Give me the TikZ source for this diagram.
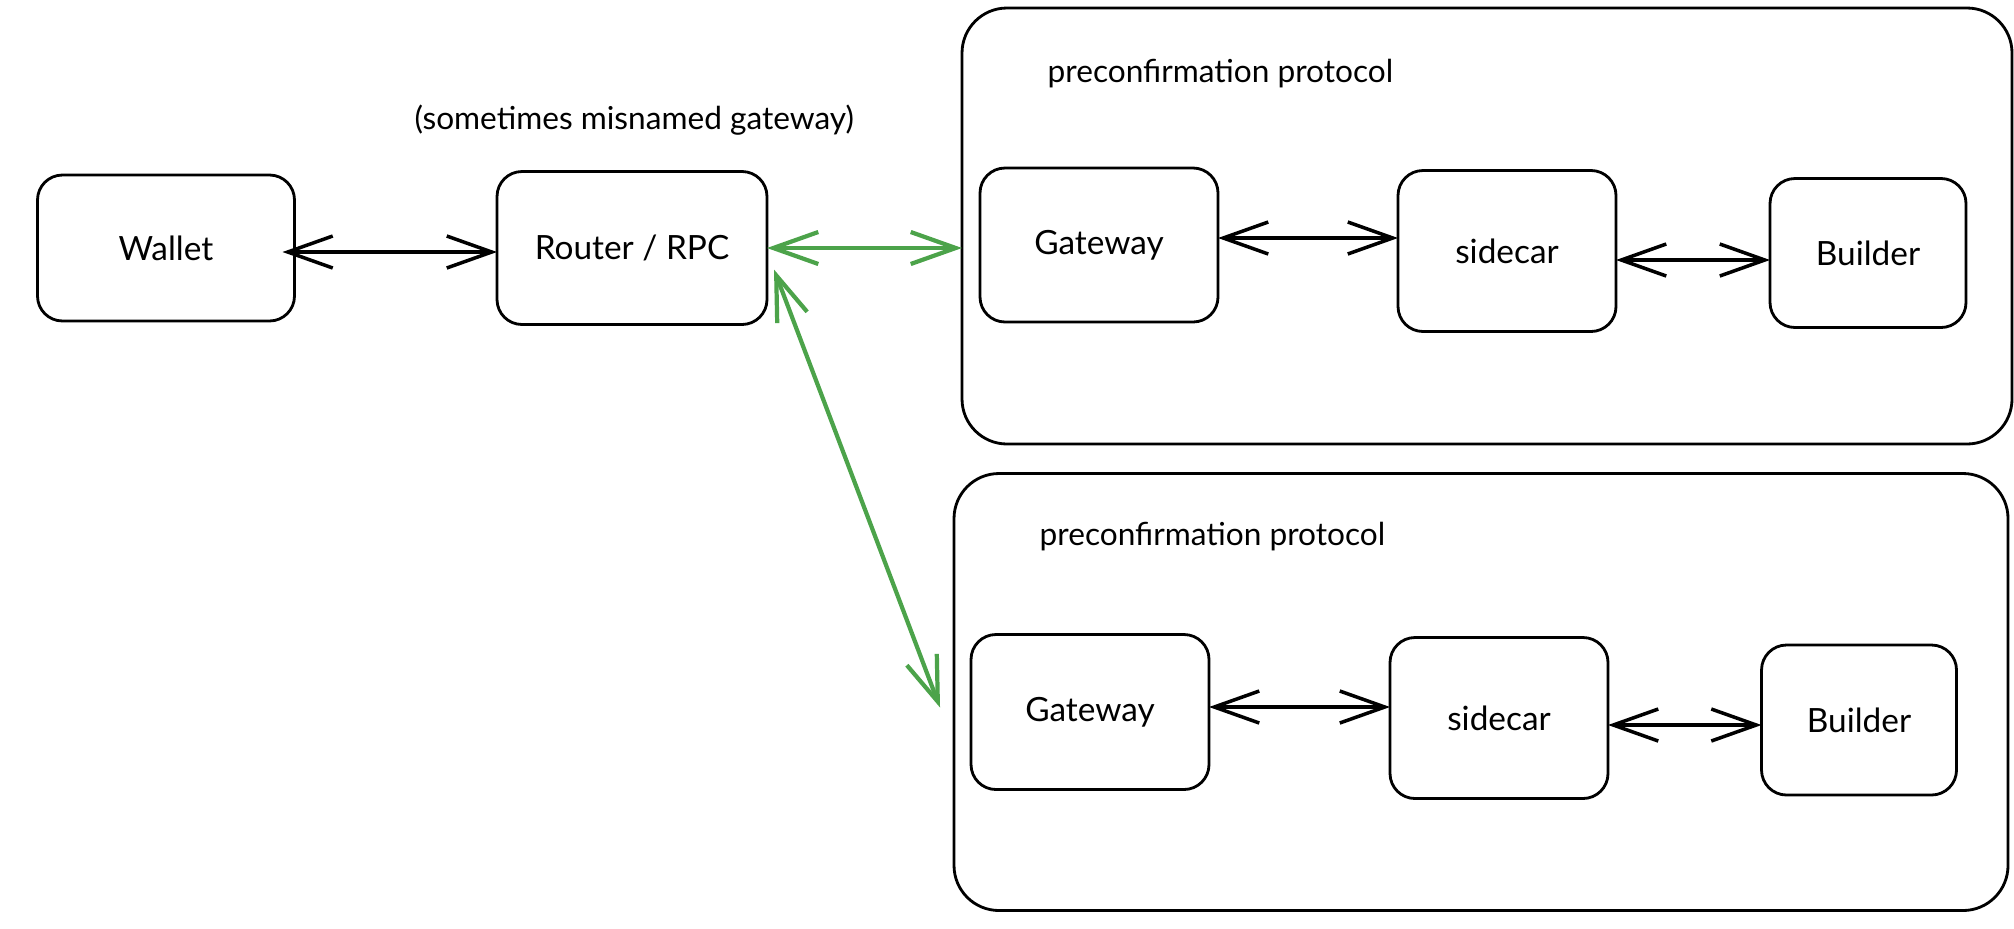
\documentclass[tikz,border=0pt]{standalone}
\usepackage{fontspec}
\setmainfont{Lato}
\usetikzlibrary{arrows.meta}
\definecolor{grn}{RGB}{76,163,74}

\begin{document}
\begin{tikzpicture}[x=0.1mm,y=-0.1mm,
  box/.style={draw,line width=0.8pt,rounded corners=2.5mm,inner sep=0pt,outer sep=0pt,font=\fontsize{9.5}{11}\selectfont},
  frame/.style={draw,line width=0.8pt,rounded corners=4.5mm,inner sep=0pt,outer sep=0pt},
  caption/.style={anchor=west,inner sep=0pt,font=\fontsize{9}{11}\selectfont},
  link/.style={line width=1pt,{Straight Barb[length=4.5mm,width=3.2mm]}-{Straight Barb[length=4.5mm,width=3.2mm]}},
  glink/.style={link,line width=1.2pt,draw=grn}]
  \useasboundingbox (0,0) rectangle (2014,928);
  \node[frame,minimum width=105mm,minimum height=43.6mm] (top) at (1487,226) {};
  \node[frame,minimum width=105.4mm,minimum height=43.7mm] (bot) at (1481,692) {};
  \node[caption] (toplbl) at (1047,74) {preconfirmation protocol};
  \node[caption] (botlbl) at (1039,537) {preconfirmation protocol};
  \node[caption] (note) at (414,120) {(sometimes misnamed gateway)};
  \node[box,minimum width=25.7mm,minimum height=14.6mm] (wallet) at (166,248) {Wallet};
  \node[box,minimum width=27mm,minimum height=15.3mm] (router) at (632,248) {Router / RPC};
  \node[box,minimum width=23.8mm,minimum height=15.4mm] (gw1) at (1099,245) {Gateway};
  \node[box,minimum width=21.8mm,minimum height=16.1mm] (sc1) at (1507,251) {sidecar};
  \node[box,minimum width=19.6mm,minimum height=14.9mm] (bd1) at (1868,253) {Builder};
  \node[box,minimum width=23.8mm,minimum height=15.5mm] (gw2) at (1090,712) {Gateway};
  \node[box,minimum width=21.8mm,minimum height=16.1mm] (sc2) at (1499,718) {sidecar};
  \node[box,minimum width=19.5mm,minimum height=15mm] (bd2) at (1859,720) {Builder};
  \draw[link] ([xshift=-1.2mm,yshift=-0.4mm]wallet.east) -- ([yshift=-0.4mm]wallet.east -| router.west);
  \draw[link] ([yshift=0.7mm]gw1.east) -- ([yshift=0.7mm]gw1.east -| sc1.west);
  \draw[link] ([yshift=-0.9mm]sc1.east) -- ([yshift=-0.9mm]sc1.east -| bd1.west);
  \draw[link] ([yshift=0.5mm]gw2.east) -- ([yshift=0.5mm]gw2.east -| sc2.west);
  \draw[link] ([yshift=-0.7mm]sc2.east) -- ([yshift=-0.7mm]sc2.east -| bd2.west);
  \draw[glink] (router.east) -- (router.east -| top.west);
  \draw[glink] ([xshift=0.7mm,yshift=-2.15mm]router.east) -- ([xshift=-1.4mm,yshift=-1.55mm]bot.west);
\end{tikzpicture}
\end{document}
